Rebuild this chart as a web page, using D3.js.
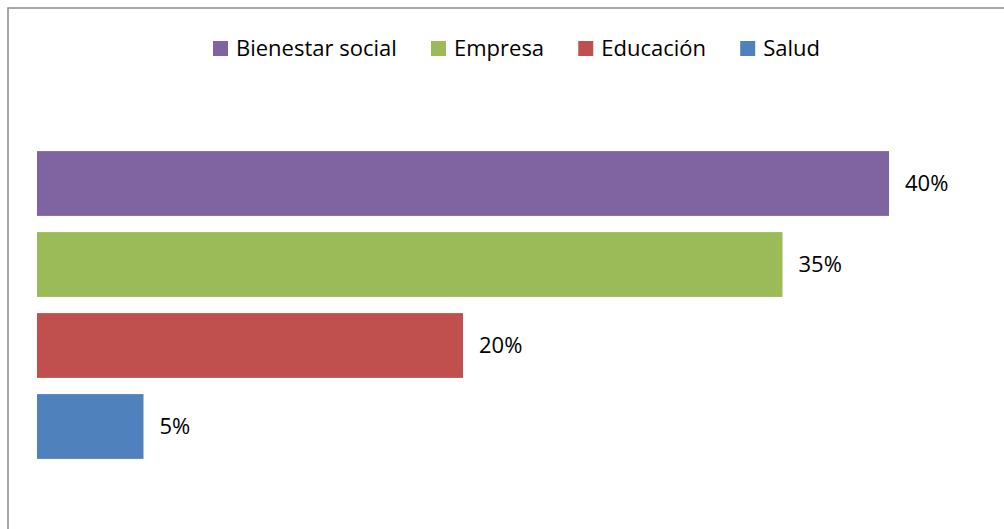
<!DOCTYPE html>
<html>
<head>
<meta charset="utf-8">
<script src="https://cdn.jsdelivr.net/npm/d3@7"></script>
<style>
  html, body { margin: 0; padding: 0; background: #fff; }
  svg { display: block; }
  text { font-family: "Open Sans", "Noto Sans", sans-serif; fill: #000; }
</style>
</head>
<body>
<svg id="chart" width="1004" height="529"></svg>
<script>
// Share of projects by area (percent)
const categories = ["Bienestar social", "Empresa", "Educación", "Salud"];
const values = [40, 35, 20, 5];
const colors = ["#8064A2", "#9BBB59", "#C0504D", "#4F81BD"];

const W = 1004, H = 529;
const svg = d3.select("#chart");

// chart frame
svg.append("rect")
  .attr("x", 8).attr("y", 8)
  .attr("width", W + 10).attr("height", H + 10)
  .attr("fill", "none").attr("stroke", "#8c8c8c").attr("stroke-width", 1.5);

const x = d3.scaleLinear().domain([0, 40]).range([37, 889]);
const y = d3.scaleBand().domain(categories).range([143, 467]).paddingInner(0.2).paddingOuter(0.1);

const g = svg.append("g");
g.selectAll("rect.bar")
  .data(categories)
  .join("rect")
  .attr("class", "bar")
  .attr("x", x(0))
  .attr("y", d => y(d))
  .attr("width", (d, i) => x(values[i]) - x(0))
  .attr("height", y.bandwidth())
  .attr("fill", (d, i) => colors[i]);

g.selectAll("text.val")
  .data(categories)
  .join("text")
  .attr("class", "val")
  .attr("x", (d, i) => x(values[i]) + 16)
  .attr("y", d => y(d) + y.bandwidth() / 2)
  .attr("dy", "0.36em")
  .attr("font-size", 22)
  .text((d, i) => values[i] + "%");

// legend across the top
const legend = svg.append("g");
const items = legend.selectAll("g")
  .data(categories)
  .join("g");
items.append("rect")
  .attr("width", 15).attr("height", 15)
  .attr("y", 41)
  .attr("fill", (d, i) => colors[i]);
items.append("text")
  .attr("x", 23)
  .attr("y", 48.5)
  .attr("dy", "0.36em")
  .attr("font-size", 22)
  .text(d => d);

const widths = [];
items.each(function () { widths.push(this.getBBox().width); });
const left = 213, right = 820;
const gap = ((right - left) - d3.sum(widths)) / (widths.length - 1);
let cx = left;
items.attr("transform", (d, i) => {
  const t = `translate(${cx},0)`;
  cx += widths[i] + gap;
  return t;
});
</script>
</body>
</html>
